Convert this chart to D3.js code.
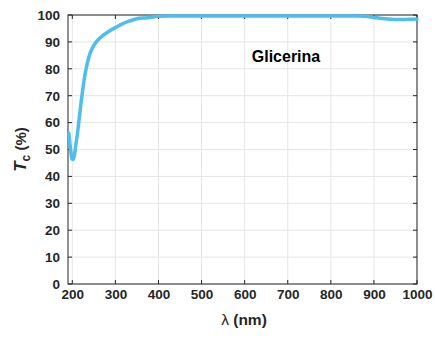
<!DOCTYPE html>
<html>
<head>
<meta charset="utf-8">
<script src="https://cdn.jsdelivr.net/npm/d3@7"></script>
<style>
  html, body { margin: 0; padding: 0; background: #fff; }
  svg { display: block; }
  text { font-family: "Liberation Sans", Arial, sans-serif; font-weight: bold; fill: #262626; }
</style>
</head>
<body>
<svg id="chart" width="435" height="338"></svg>
<script>
// Transmittance spectrum of glycerin
const wavelength = [192, 196, 199, 202, 205, 208, 212, 216, 220, 224, 228, 232, 236, 240, 246, 252, 260, 270, 280, 290, 300, 315, 330, 345, 355, 370, 385, 400, 420, 450, 500, 600, 700, 800, 860, 880, 900, 920, 940, 960, 980, 1000];
const transmittance = [56, 50, 46.5, 46.3, 48, 51.5, 56, 61.5, 67, 72, 76.5, 80, 82.8, 85.2, 87.5, 89.2, 90.8, 92.2, 93.4, 94.4, 95.3, 96.6, 97.6, 98.4, 98.8, 98.9, 99.2, 99.5, 99.6, 99.6, 99.6, 99.6, 99.6, 99.6, 99.6, 99.5, 99.1, 98.7, 98.4, 98.3, 98.4, 98.5];
const xTicks = [200, 300, 400, 500, 600, 700, 800, 900, 1000];
const yTicks = [0, 10, 20, 30, 40, 50, 60, 70, 80, 90, 100];
const sampleLabel = "Glicerina";

const svg = d3.select("#chart");
const margin = { left: 68, right: 18, top: 15, bottom: 54 };
const W = 435, H = 338;
const x = d3.scaleLinear().domain([190, 1000]).range([margin.left, W - margin.right]);
const y = d3.scaleLinear().domain([0, 100]).range([H - margin.bottom, margin.top]);

const g = svg.append("g");

// grid
g.append("g").selectAll("line").data(xTicks).join("line")
  .attr("x1", d => x(d)).attr("x2", d => x(d))
  .attr("y1", y(0)).attr("y2", y(100))
  .attr("stroke", "#e6e6e6").attr("stroke-width", 1);
g.append("g").selectAll("line").data(yTicks).join("line")
  .attr("x1", x(190)).attr("x2", x(1000))
  .attr("y1", d => y(d)).attr("y2", d => y(d))
  .attr("stroke", "#e6e6e6").attr("stroke-width", 1);

// axes
const xAxis = d3.axisBottom(x).tickValues(xTicks).tickFormat(d3.format("d")).tickSize(0).tickPadding(5);
const yAxis = d3.axisLeft(y).tickValues(yTicks).tickFormat(d3.format("d")).tickSize(0).tickPadding(8);

const gx = g.append("g").attr("transform", `translate(0,${y(0)})`).call(xAxis);
const gy = g.append("g").attr("transform", `translate(${x(190)},0)`).call(yAxis);
[gx, gy].forEach(a => {
  a.select(".domain").remove();
  a.selectAll("text").attr("font-size", 13.5).attr("font-family", "Liberation Sans, Arial, sans-serif")
    .attr("font-weight", "bold").attr("fill", "#262626");
});

// inner tick marks on all four sides
const tl = 4;
g.append("g").selectAll("line").data(xTicks).join("line")
  .attr("x1", d => x(d)).attr("x2", d => x(d))
  .attr("y1", y(0)).attr("y2", y(0) - tl).attr("stroke", "#262626");
g.append("g").selectAll("line").data(xTicks).join("line")
  .attr("x1", d => x(d)).attr("x2", d => x(d))
  .attr("y1", y(100)).attr("y2", y(100) + tl).attr("stroke", "#262626");
g.append("g").selectAll("line").data(yTicks).join("line")
  .attr("x1", x(190)).attr("x2", x(190) + tl)
  .attr("y1", d => y(d)).attr("y2", d => y(d)).attr("stroke", "#262626");
g.append("g").selectAll("line").data(yTicks).join("line")
  .attr("x1", x(1000)).attr("x2", x(1000) - tl)
  .attr("y1", d => y(d)).attr("y2", d => y(d)).attr("stroke", "#262626");

// box
g.append("rect")
  .attr("x", x(190)).attr("y", y(100))
  .attr("width", x(1000) - x(190)).attr("height", y(0) - y(100))
  .attr("fill", "none").attr("stroke", "#262626").attr("stroke-width", 1);

// curve
const line = d3.line().x((d, i) => x(wavelength[i])).y(d => y(d)).curve(d3.curveMonotoneX);
g.append("path").datum(transmittance)
  .attr("d", line)
  .attr("fill", "none").attr("stroke", "#4DBEEE").attr("stroke-width", 3.5)
  .attr("stroke-linejoin", "round").attr("stroke-linecap", "round");

// sample label
g.append("text").attr("x", 286).attr("y", 62)
  .attr("text-anchor", "middle").attr("font-size", 16).style("fill", "#000")
  .text(sampleLabel);

// x label
const xl = g.append("text").attr("x", 244).attr("y", 325)
  .attr("text-anchor", "middle").attr("font-size", 15.5);
xl.append("tspan").attr("font-weight", "normal").text("λ");
xl.append("tspan").text(" (nm)");

// y label
const yl = g.append("text")
  .attr("transform", `translate(26,${y(50)}) rotate(-90)`)
  .attr("text-anchor", "middle").attr("font-size", 15);
yl.append("tspan").attr("font-style", "italic").attr("font-size", 17).text("T");
yl.append("tspan").attr("font-size", 12).attr("dy", 4).text("c");
yl.append("tspan").attr("dy", -4).text(" (%)");
</script>
</body>
</html>
